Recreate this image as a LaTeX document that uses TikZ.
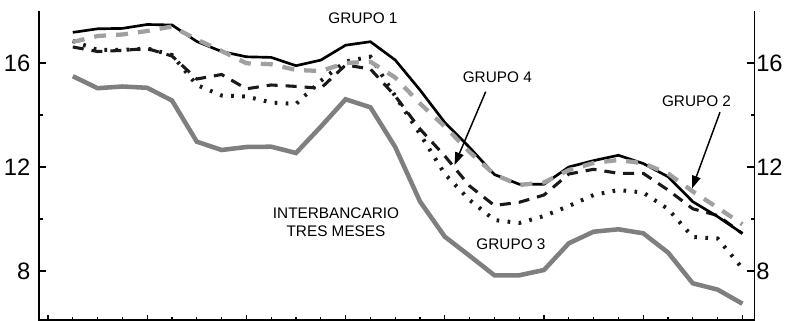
\documentclass[tikz,border=0pt]{standalone}
\usepackage{fontspec}
\setmainfont{Liberation Sans}
\usetikzlibrary{arrows.meta}
\definecolor{cInter}{HTML}{7F7F7F}
\definecolor{cGrTwo}{HTML}{A0A0A0}
\begin{document}
\begin{tikzpicture}[x=0.75pt,y=-0.75pt,
  axisline/.style={line width=1.1pt, black},
  tickmark/.style={line width=0.9pt, black},
  ticklabel/.style={font=\fontsize{17.8}{20}\selectfont, inner sep=0pt},
  serieslabel/.style={font=\fontsize{11.5}{13.9}\selectfont, inner sep=0pt, align=center},
  grupoone/.style={line width=2pt, black},
  grupotwo/.style={line width=3.2pt, cGrTwo, dash pattern=on 9pt off 7.5pt},
  grupofour/.style={line width=2.3pt, black!90, dash pattern=on 8.25pt off 6pt},
  grupothree/.style={line width=3pt, black!90, dash pattern=on 2pt off 6.3pt},
  interbank/.style={line width=3.4pt, cInter},
  pointer/.style={line width=1.1pt, -{Triangle[length=9.5pt,width=6.5pt]}}
]
\useasboundingbox (0,0) rectangle (789,321);

% axes
\draw[axisline] (39,11) -- (39,320) -- (754.3,320) -- (754.3,11);
\foreach \yy in {63,167,271} {
  \draw[tickmark] (39,\yy) -- (45.5,\yy);
  \draw[tickmark] (754.3,\yy) -- (747.3,\yy);
}
\foreach \yy in {115,219} {
  \draw[tickmark] (39,\yy) -- (42.5,\yy);
  \draw[tickmark] (754.3,\yy) -- (750.5,\yy);
}
\foreach \k in {0,...,28} {
  \pgfmathsetmacro{\xx}{48+24.8*\k}
  \pgfmathtruncatemacro{\mm}{mod(\k,4)}
  \ifnum\mm=0
    \draw[tickmark] (\xx,320) -- (\xx,314.5);
  \else
    \draw[tickmark] (\xx,320) -- (\xx,317.3);
  \fi
}

% tick labels
\node[ticklabel, anchor=east] (l16) at (30.5,63) {16};
\node[ticklabel, anchor=east] (l12) at (30.5,167) {12};
\node[ticklabel, anchor=east] (l8) at (30.5,271) {8};
\node[ticklabel, anchor=west] (r16) at (756,63) {16};
\node[ticklabel, anchor=west] (r12) at (756,167) {12};
\node[ticklabel, anchor=west] (r8) at (756,271) {8};

% series
\draw[interbank] plot coordinates {(72.8,76.2) (97.6,88.2) (122.4,86.5) (147.2,87.8) (172,100.5) (196.8,141.7) (221.6,150) (246.4,147) (271.2,146.7) (296,153) (320.8,126.7) (345.6,99.3) (370.4,107.3) (395.2,147) (420,201.5) (444.8,236.7) (469.6,255.8) (494.4,275.3) (519.2,275.3) (544,270) (568.8,243.3) (593.6,231.7) (618.4,229.3) (643.2,233.3) (668,252.5) (692.8,283.3) (717.6,289.6) (742.4,303.7)};

\draw[grupothree] plot coordinates {(72.8,41) (97.6,50) (122.4,50) (147.2,48.5) (172,55) (196.8,85) (221.6,95.5) (246.4,96.5) (271.2,102.5) (296,104) (320.8,80.8) (345.6,61.5) (370.4,56.7) (395.2,96) (420,134) (444.8,174) (469.6,200) (494.4,220) (519.2,223) (544,216) (568.8,206) (593.6,195) (618.4,190) (643.2,192.5) (668,209) (692.8,237) (717.6,238.5) (742.4,268.3)};

\draw[grupofour] plot coordinates {(72.8,47) (97.6,51.5) (122.4,50.4) (147.2,48.5) (172,56) (196.8,79) (221.6,74.5) (246.4,88.8) (271.2,85) (296,86.4) (320.8,88.3) (345.6,65) (370.4,69) (395.2,96) (420,129) (444.8,156) (469.6,186) (494.4,205.5) (519.2,202.3) (544,195) (568.8,174) (593.6,169.3) (618.4,173.3) (643.2,173.3) (668,190) (692.8,208.8) (717.6,215.5) (742.4,233.5)};

\draw[grupoone] plot coordinates {(72.8,32.4) (97.6,28.8) (122.4,28.4) (147.2,24.5) (172,25) (196.8,41.5) (221.6,51.5) (246.4,56.8) (271.2,57.4) (296,65.7) (320.8,60.1) (345.6,45.2) (370.4,41.7) (395.2,60) (420,90) (444.8,122.5) (469.6,147.5) (494.4,174.5) (519.2,184.2) (544,184.2) (568.8,167) (593.6,160.6) (618.4,155.3) (643.2,163.5) (668,176.7) (692.8,201.7) (717.6,216.6) (742.4,233.5)};

\draw[grupotwo] plot coordinates {(72.8,42) (97.6,36) (122.4,34.5) (147.2,31) (172,26.5) (196.8,39.5) (221.6,51) (246.4,63.3) (271.2,64.2) (296,70) (320.8,71) (345.6,63) (370.4,61.7) (395.2,77.5) (420,103.5) (444.8,126.5) (469.6,152) (494.4,174.5) (519.2,185) (544,182.5) (568.8,170) (593.6,163) (618.4,160) (643.2,163.3) (668,173.5) (692.8,191.5) (717.6,207.7) (742.4,224.3)};

% series labels
\node[serieslabel] (g1) at (363,18.5) {GRUPO 1};
\node[serieslabel] (g4) at (497.3,77.5) {GRUPO 4};
\node[serieslabel] (g2) at (696.5,101) {GRUPO 2};
\node[serieslabel] (g3) at (511,244) {GRUPO 3};
\node[serieslabel] (ib) at (336,222) {INTERBANCARIO\\TRES MESES};

% pointers
\path (g4.south) ++(-11.6,8.5) coordinate (g4tail);
\coordinate (g4tip) at (454.5,165);
\draw[pointer] (g4tail) -- (g4tip);
\path (g2.south) ++(23.5,5.5) coordinate (g2tail);
\coordinate (g2tip) at (692,188.5);
\draw[pointer] (g2tail) -- (g2tip);
\end{tikzpicture}
\end{document}
